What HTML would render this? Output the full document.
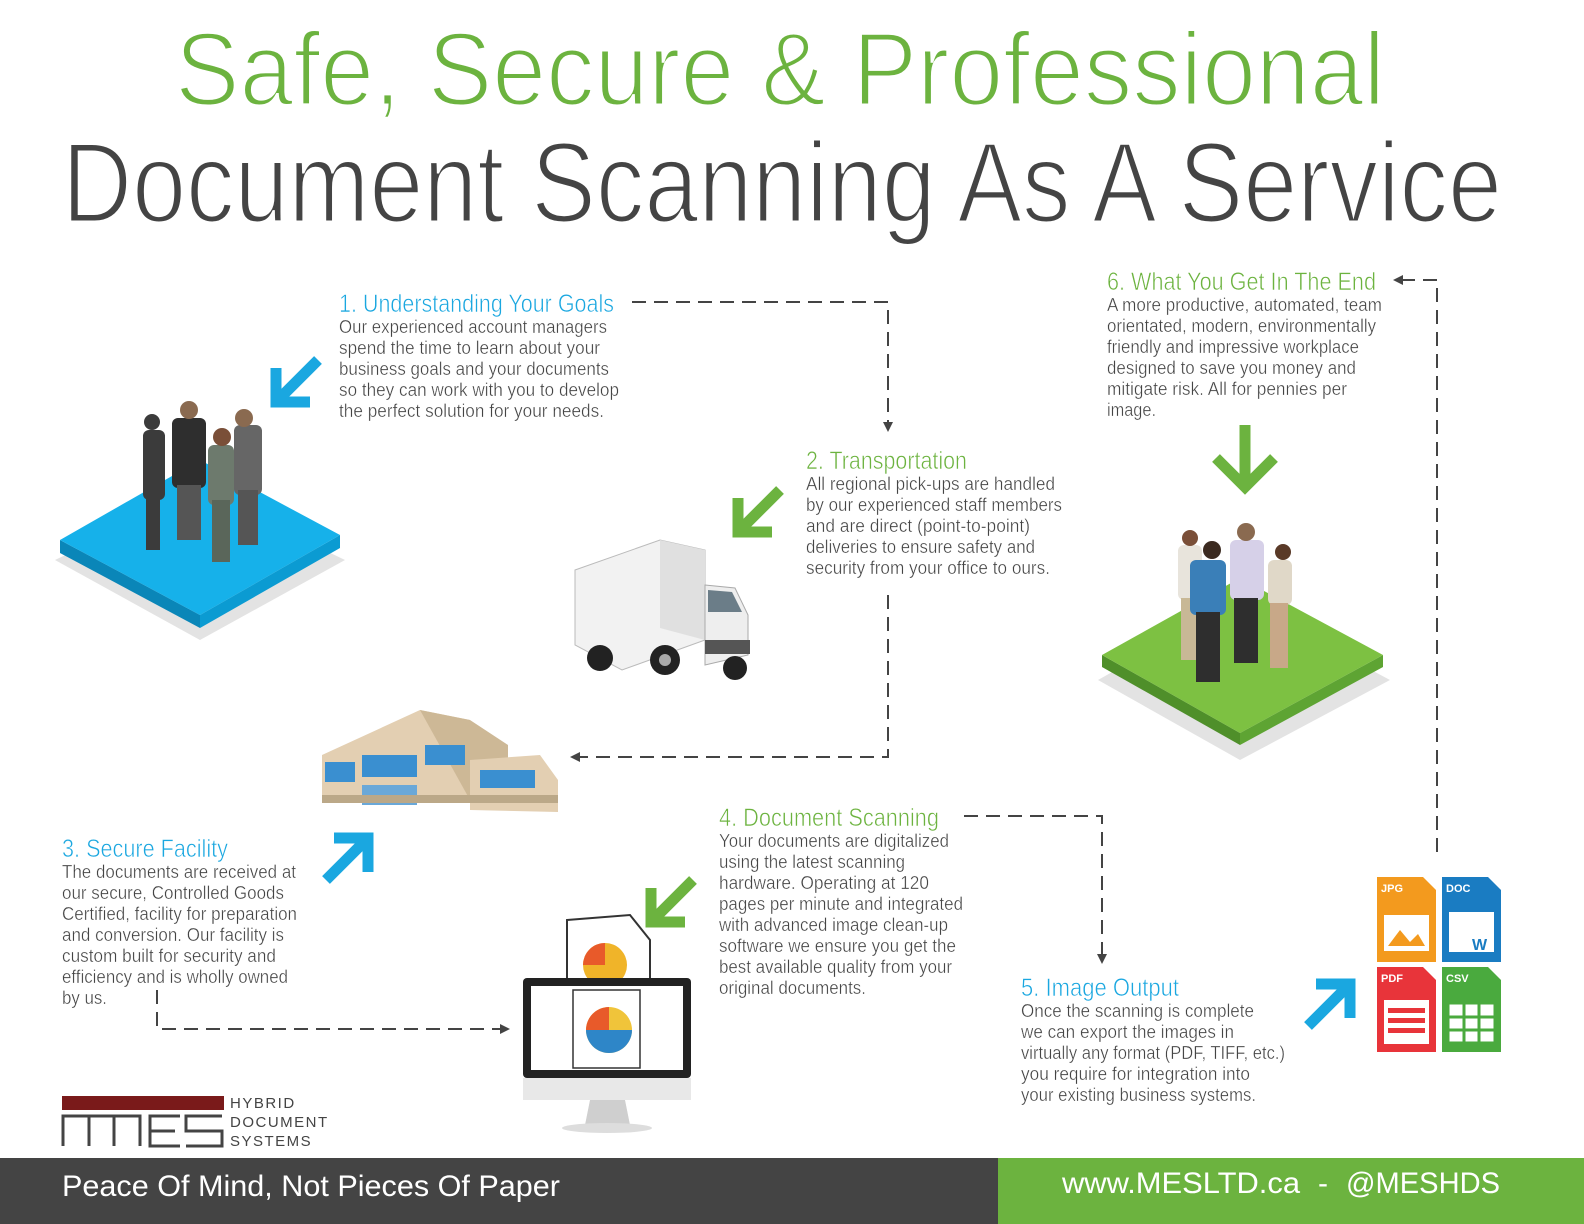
<!DOCTYPE html>
<html><head><meta charset="utf-8"><style>
html,body{margin:0;padding:0;background:#fff;}
svg{display:block;}
text{font-family:"Liberation Sans",sans-serif;}
.thin{stroke:#fff;stroke-width:0.35px;}
.hthin{stroke:#fff;stroke-width:0.6px;}
</style></head><body>
<svg width="1584" height="1224" viewBox="0 0 1584 1224" xmlns="http://www.w3.org/2000/svg">
<defs>
<marker id="ah" markerWidth="10" markerHeight="10" refX="8" refY="5" orient="auto" markerUnits="userSpaceOnUse"><path d="M0,0 L10,5 L0,10 z" fill="#444"/></marker>
</defs>
<text x="175" y="105" font-size="104" fill="#6cb33f" stroke="#fff" stroke-width="3" textLength="1210" lengthAdjust="spacingAndGlyphs">Safe, Secure &amp; Professional</text>
<text x="62" y="222" font-size="114" fill="#444" stroke="#fff" stroke-width="3" textLength="1440" lengthAdjust="spacingAndGlyphs">Document Scanning As A Service</text>

<g fill="none" stroke="#444" stroke-width="2" stroke-dasharray="14 8">
<polyline points="632,302 888,302 888,430" marker-end="url(#ah)"/>
<polyline points="888,595 888,757 572,757" marker-end="url(#ah)"/>
<polyline points="157,990 157,1029 508,1029" marker-end="url(#ah)"/>
<polyline points="964,816 1102,816 1102,962" marker-end="url(#ah)"/>
<polyline points="1437,852 1437,280 1395,280" marker-end="url(#ah)"/>
</g>

<g font-size="18" fill="#444">
<g class="hthin">
<text x="339" y="312" font-size="25" fill="#1aa7e0" textLength="275" lengthAdjust="spacingAndGlyphs">1. Understanding Your Goals</text>
<text x="806" y="469" font-size="25" fill="#6cb33f" textLength="161" lengthAdjust="spacingAndGlyphs">2. Transportation</text>
<text x="1107" y="290" font-size="25" fill="#6cb33f" textLength="269" lengthAdjust="spacingAndGlyphs">6. What You Get In The End</text>
<text x="62" y="857" font-size="25" fill="#1aa7e0" textLength="166" lengthAdjust="spacingAndGlyphs">3. Secure Facility</text>
<text x="719" y="826" font-size="25" fill="#6cb33f" textLength="220" lengthAdjust="spacingAndGlyphs">4. Document Scanning</text>
<text x="1021" y="996" font-size="25" fill="#1aa7e0" textLength="158" lengthAdjust="spacingAndGlyphs">5. Image Output</text>
</g>
<g class="thin">
<text x="339" y="333" textLength="268" lengthAdjust="spacingAndGlyphs">Our experienced account managers</text>
<text x="339" y="354" textLength="261" lengthAdjust="spacingAndGlyphs">spend the time to learn about your</text>
<text x="339" y="375" textLength="270" lengthAdjust="spacingAndGlyphs">business goals and your documents</text>
<text x="339" y="396" textLength="280" lengthAdjust="spacingAndGlyphs">so they can work with you to develop</text>
<text x="339" y="417" textLength="265" lengthAdjust="spacingAndGlyphs">the perfect solution for your needs.</text>
<text x="806" y="490" textLength="249" lengthAdjust="spacingAndGlyphs">All regional pick-ups are handled</text>
<text x="806" y="511" textLength="256" lengthAdjust="spacingAndGlyphs">by our experienced staff members</text>
<text x="806" y="532" textLength="224" lengthAdjust="spacingAndGlyphs">and are direct (point-to-point)</text>
<text x="806" y="553" textLength="229" lengthAdjust="spacingAndGlyphs">deliveries to ensure safety and</text>
<text x="806" y="574" textLength="244" lengthAdjust="spacingAndGlyphs">security from your office to ours.</text>
<text x="1107" y="311" textLength="275" lengthAdjust="spacingAndGlyphs">A more productive, automated, team</text>
<text x="1107" y="332" textLength="269" lengthAdjust="spacingAndGlyphs">orientated, modern, environmentally</text>
<text x="1107" y="353" textLength="252" lengthAdjust="spacingAndGlyphs">friendly and impressive workplace</text>
<text x="1107" y="374" textLength="249" lengthAdjust="spacingAndGlyphs">designed to save you money and</text>
<text x="1107" y="395" textLength="240" lengthAdjust="spacingAndGlyphs">mitigate risk. All for pennies per</text>
<text x="1107" y="416" textLength="49" lengthAdjust="spacingAndGlyphs">image.</text>
<text x="62" y="878" textLength="234" lengthAdjust="spacingAndGlyphs">The documents are received at</text>
<text x="62" y="899" textLength="222" lengthAdjust="spacingAndGlyphs">our secure, Controlled Goods</text>
<text x="62" y="920" textLength="235" lengthAdjust="spacingAndGlyphs">Certified, facility for preparation</text>
<text x="62" y="941" textLength="222" lengthAdjust="spacingAndGlyphs">and conversion. Our facility is</text>
<text x="62" y="962" textLength="214" lengthAdjust="spacingAndGlyphs">custom built for security and</text>
<text x="62" y="983" textLength="226" lengthAdjust="spacingAndGlyphs">efficiency and is wholly owned</text>
<text x="62" y="1004" textLength="45" lengthAdjust="spacingAndGlyphs">by us.</text>
<text x="719" y="847" textLength="230" lengthAdjust="spacingAndGlyphs">Your documents are digitalized</text>
<text x="719" y="868" textLength="186" lengthAdjust="spacingAndGlyphs">using the latest scanning</text>
<text x="719" y="889" textLength="210" lengthAdjust="spacingAndGlyphs">hardware. Operating at 120</text>
<text x="719" y="910" textLength="244" lengthAdjust="spacingAndGlyphs">pages per minute and integrated</text>
<text x="719" y="931" textLength="229" lengthAdjust="spacingAndGlyphs">with advanced image clean-up</text>
<text x="719" y="952" textLength="237" lengthAdjust="spacingAndGlyphs">software we ensure you get the</text>
<text x="719" y="973" textLength="233" lengthAdjust="spacingAndGlyphs">best available quality from your</text>
<text x="719" y="994" textLength="147" lengthAdjust="spacingAndGlyphs">original documents.</text>
<text x="1021" y="1017" textLength="233" lengthAdjust="spacingAndGlyphs">Once the scanning is complete</text>
<text x="1021" y="1038" textLength="213" lengthAdjust="spacingAndGlyphs">we can export the images in</text>
<text x="1021" y="1059" textLength="264" lengthAdjust="spacingAndGlyphs">virtually any format (PDF, TIFF, etc.)</text>
<text x="1021" y="1080" textLength="229" lengthAdjust="spacingAndGlyphs">you require for integration into</text>
<text x="1021" y="1101" textLength="235" lengthAdjust="spacingAndGlyphs">your existing business systems.</text>
</g>
</g>

<g stroke-linecap="butt" fill="none" stroke-width="11">
<g stroke="#1aa7e0"><path d="M318,360 L278,400"/><path d="M276,368 L276,402 L310,402"/></g>
<g stroke="#6cb33f"><path d="M780,490 L740,530"/><path d="M738,498 L738,532 L772,532"/></g>
<g stroke="#1aa7e0"><path d="M326,880 L366,840"/><path d="M334,838 L368,838 L368,872"/></g>
<g stroke="#6cb33f"><path d="M693,880 L653,920"/><path d="M651,888 L651,922 L685,922"/></g>
<g stroke="#1aa7e0"><path d="M1308,1026 L1348,986"/><path d="M1316,984 L1350,984 L1350,1018"/></g>
<g stroke="#6cb33f"><path d="M1245,425 L1245,485"/><path d="M1216,458 L1245,487 L1274,458"/></g>
</g>

<polygon points="55,560 200,640 345,560 200,490" fill="#e3e3e3"/>
<polygon points="60,540 200,615 200,628 60,553" fill="#0a86b8"/>
<polygon points="200,615 340,535 340,548 200,628" fill="#0b9bd2"/>
<polygon points="60,540 200,460 340,535 200,615" fill="#16b1ea"/>
<g fill="#3b3b3b">
<rect x="143" y="430" width="22" height="70" rx="6"/><rect x="146" y="495" width="14" height="55"/><circle cx="152" cy="422" r="8"/>
<rect x="172" y="418" width="34" height="70" rx="6" fill="#2e2e2e"/><rect x="177" y="485" width="24" height="55" fill="#555"/><circle cx="189" cy="410" r="9" fill="#8a6a50"/>
<rect x="208" y="445" width="26" height="60" rx="6" fill="#6d7a6d"/><rect x="212" y="500" width="18" height="62" fill="#5a665a"/><circle cx="222" cy="437" r="9" fill="#7a4f38"/>
<rect x="234" y="425" width="28" height="70" rx="6" fill="#666"/><rect x="238" y="490" width="20" height="55" fill="#555"/><circle cx="244" cy="418" r="9" fill="#8a6a50"/>
</g>

<polygon points="1098,680 1240,760 1390,680 1240,600" fill="#e3e3e3"/>
<polygon points="1102,655 1240,733 1240,745 1102,667" fill="#4f8f2a"/>
<polygon points="1240,733 1383,655 1383,667 1240,745" fill="#5ea433"/>
<polygon points="1102,655 1240,578 1383,655 1240,733" fill="#7dc142"/>
<g>
<rect x="1178" y="545" width="24" height="55" rx="6" fill="#e8e4dc"/><rect x="1181" y="598" width="18" height="62" fill="#c8b896"/><circle cx="1190" cy="538" r="8" fill="#7a4f38"/>
<rect x="1190" y="560" width="36" height="55" rx="6" fill="#3a7fb8"/><rect x="1196" y="612" width="24" height="70" fill="#2e2e2e"/><circle cx="1212" cy="550" r="9" fill="#3b2a20"/>
<rect x="1230" y="540" width="34" height="60" rx="6" fill="#d6d0e8"/><rect x="1234" y="598" width="24" height="65" fill="#2e2e2e"/><circle cx="1246" cy="532" r="9" fill="#8a6a50"/>
<rect x="1268" y="560" width="24" height="45" rx="6" fill="#e0d8c8"/><rect x="1270" y="603" width="18" height="65" fill="#c8a888"/><circle cx="1283" cy="552" r="8" fill="#5a3a28"/>
</g>

<polygon points="575,570 660,540 705,550 705,640 622,670 575,645" fill="#f2f2f2" stroke="#bbb"/>
<polygon points="660,540 705,550 705,640 660,628" fill="#e0e0e0"/>
<polygon points="705,585 735,588 748,615 748,655 705,665" fill="#eee" stroke="#aaa"/>
<polygon points="708,590 732,592 742,612 708,612" fill="#6b7d88"/>
<rect x="705" y="640" width="45" height="14" fill="#555"/>
<circle cx="600" cy="658" r="13" fill="#222"/><circle cx="665" cy="660" r="15" fill="#222"/><circle cx="665" cy="660" r="6" fill="#aaa"/>
<circle cx="735" cy="668" r="12" fill="#222"/>

<polygon points="322,755 420,710 470,720 470,800 322,795" fill="#e3cfb2"/>
<polygon points="420,710 470,720 508,745 508,790 470,800" fill="#cdb896"/>
<polygon points="470,760 540,755 558,780 558,812 470,810" fill="#e3cfb2"/>
<rect x="325" y="762" width="30" height="20" fill="#3a8fd0"/>
<rect x="362" y="755" width="55" height="22" fill="#3a8fd0"/>
<rect x="425" y="745" width="40" height="20" fill="#3a8fd0"/>
<rect x="480" y="770" width="55" height="18" fill="#3a8fd0"/>
<rect x="362" y="785" width="55" height="20" fill="#6aa8d8"/>
<rect x="322" y="795" width="236" height="8" fill="#bba888"/>

<polygon points="567,920 630,915 650,940 650,995 567,995" fill="#fff" stroke="#333" stroke-width="2"/>
<circle cx="605" cy="965" r="22" fill="#f0b429"/><path d="M605,965 L583,965 A22,22 0 0 1 605,943 z" fill="#e85a2a"/>
<rect x="523" y="978" width="168" height="100" rx="4" fill="#222"/>
<rect x="531" y="986" width="152" height="84" fill="#fff"/>
<rect x="523" y="1078" width="168" height="22" fill="#e8e8e8"/>
<polygon points="590,1100 625,1100 630,1125 585,1125" fill="#cfcfcf"/>
<ellipse cx="607" cy="1128" rx="45" ry="5" fill="#ddd"/>
<rect x="573" y="990" width="67" height="78" fill="#fff" stroke="#333" stroke-width="1.5"/>
<circle cx="609" cy="1030" r="23" fill="#f0c43a"/><path d="M609,1030 L586,1030 A23,23 0 0 1 609,1007 z" fill="#e85a2a"/><path d="M609,1030 L632,1030 A23,23 0 0 1 586,1030 z" fill="#2e86c8"/>

<g font-size="11" font-weight="bold" fill="#fff">
<polygon points="1377,877 1423,877 1436,890 1436,962 1377,962" fill="#f39a1e"/><rect x="1384" y="915" width="45" height="36" fill="#fff"/><polygon points="1388,946 1400,930 1410,942 1418,934 1425,946" fill="#f39a1e"/><text x="1381" y="892">JPG</text>
<polygon points="1442,877 1488,877 1501,890 1501,962 1442,962" fill="#1a7cc2"/><rect x="1449" y="912" width="45" height="40" fill="#fff"/><text x="1446" y="892">DOC</text><text x="1472" y="950" font-size="16" fill="#1a7cc2">W</text>
<polygon points="1377,967 1423,967 1436,980 1436,1052 1377,1052" fill="#e8343a"/><rect x="1384" y="1000" width="45" height="44" fill="#fff"/><rect x="1388" y="1008" width="37" height="5" fill="#e8343a"/><rect x="1388" y="1018" width="37" height="5" fill="#e8343a"/><rect x="1388" y="1028" width="37" height="5" fill="#e8343a"/><text x="1381" y="982">PDF</text>
<polygon points="1442,967 1488,967 1501,980 1501,1052 1442,1052" fill="#4aaa3e"/><rect x="1449" y="1004" width="45" height="38" fill="#fff" stroke="#4aaa3e"/><text x="1446" y="982">CSV</text>
<path d="M1449,1017 H1494 M1449,1030 H1494 M1464,1004 V1042 M1479,1004 V1042" stroke="#4aaa3e" stroke-width="3"/>
</g>

<rect x="62" y="1096" width="162" height="14" fill="#7a1a1a"/>
<g fill="none" stroke="#444" stroke-width="3">
<path d="M63,1146 V1116 H140 V1146 M89,1116 V1146 M114,1116 V1146"/>
<path d="M180,1116 H150 V1146 H180 M150,1131 H175"/>
<path d="M222,1116 H186 V1131 H222 V1146 H186"/>
</g>
<text x="230" y="1108" font-size="15" fill="#444" letter-spacing="1.5">HYBRID</text>
<text x="230" y="1127" font-size="15" fill="#444" letter-spacing="1.5">DOCUMENT</text>
<text x="230" y="1146" font-size="15" fill="#444" letter-spacing="1.5">SYSTEMS</text>

<rect x="0" y="1158" width="998" height="66" fill="#444"/>
<rect x="998" y="1158" width="586" height="66" fill="#6cb33f"/>
<text x="62" y="1196" font-size="30" fill="#fff" textLength="498" lengthAdjust="spacingAndGlyphs">Peace Of Mind, Not Pieces Of Paper</text>
<text x="1062" y="1193" font-size="30" fill="#fff" textLength="238" lengthAdjust="spacingAndGlyphs">www.MESLTD.ca</text>
<text x="1318" y="1193" font-size="30" fill="#fff">-</text>
<text x="1346" y="1193" font-size="30" fill="#fff" textLength="154" lengthAdjust="spacingAndGlyphs">@MESHDS</text>
</svg>
</body></html>
